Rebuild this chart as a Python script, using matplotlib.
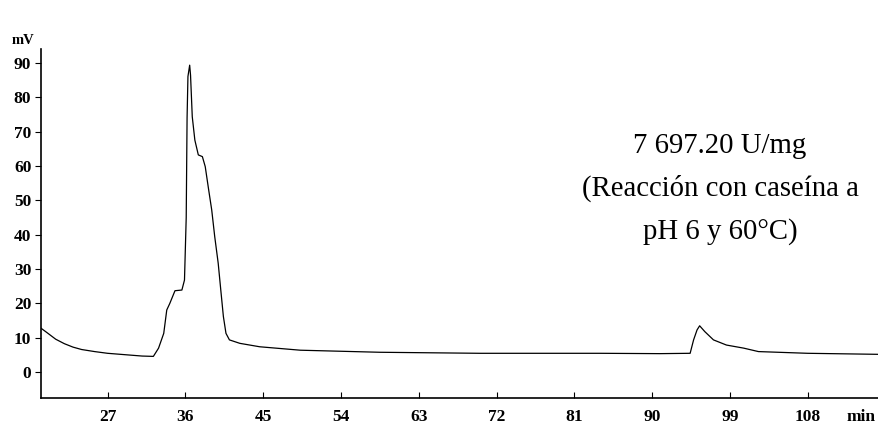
import matplotlib.pyplot as plt

# chromatogram trace (time in min, signal in mV)
t = [19.3, 20.0, 21.0, 22.0, 23.0, 24.0, 25.5, 27.0, 29.0, 31.0, 32.3,
     32.9, 33.5, 33.85, 34.2, 34.8, 35.6, 35.9, 36.1, 36.2, 36.3, 36.5,
     36.6, 36.8, 37.1, 37.5, 37.97, 38.3, 38.7, 39.05, 39.4, 39.8, 40.1,
     40.4, 40.7, 41.1, 42.3, 44.6, 49.3, 58.5, 70.1, 84.0, 90.9, 94.4,
     94.8, 95.2, 95.5, 96.1, 97.1, 98.6, 100.6, 102.3, 108.0, 116.2]
mv = [12.8, 11.5, 9.6, 8.3, 7.3, 6.6, 6.0, 5.5, 5.1, 4.7, 4.6,
      7.0, 11.3, 18.1, 20.0, 23.7, 23.9, 26.8, 45.0, 74.0, 86.0, 89.3,
      86.4, 74.3, 67.5, 63.2, 62.7, 59.8, 53.0, 47.2, 39.4, 31.7, 23.9,
      16.2, 11.3, 9.4, 8.4, 7.4, 6.4, 5.8, 5.5, 5.5, 5.4, 5.5,
      9.4, 12.3, 13.5, 11.8, 9.4, 7.9, 7.0, 6.0, 5.5, 5.2]

x_ticks = [27, 36, 45, 54, 63, 72, 81, 90, 99, 108]
y_ticks = [0, 10, 20, 30, 40, 50, 60, 70, 80, 90]

note = "7 697.20 U/mg\n(Reacción con caseína a\npH 6 y 60°C)"

plt.rcParams['font.family'] = ['Liberation Serif', 'DejaVu Serif']

fig = plt.figure(figsize=(8.79, 4.26), dpi=100)
ax = fig.add_axes([41 / 879, 1 - 398 / 426, 1 - 41 / 879, (398 - 49) / 426])

ax.plot(t, mv, color='black', linewidth=0.9)

ax.set_xlim(19.3, 116.25)
ax.set_ylim(-7.5, 94)
ax.set_xticks(x_ticks)
ax.set_yticks(y_ticks)

for s in ['top', 'right']:
    ax.spines[s].set_visible(False)
for s in ['left', 'bottom']:
    ax.spines[s].set_linewidth(1.2)

ax.tick_params(axis='x', direction='in', length=4, width=0.8, pad=8,
               labelsize=12.5)
ax.tick_params(axis='y', direction='out', length=4, width=0.8, pad=3,
               labelsize=12.5)
for lab in ax.get_xticklabels() + ax.get_yticklabels():
    lab.set_fontweight('bold')

fig.text(23 / 879, 1 - 40 / 426, "mV", ha='center', va='center',
         fontsize=10.5, fontweight='bold')
fig.text(861 / 879, 1 - 417 / 426, "min", ha='center', va='center',
         fontsize=12.5, fontweight='bold')

fig.text(720 / 879, 1 - 189 / 426, note, ha='center', va='center',
         multialignment='center', fontsize=20.7, linespacing=1.75)

fig.savefig('out.png', dpi=100)
